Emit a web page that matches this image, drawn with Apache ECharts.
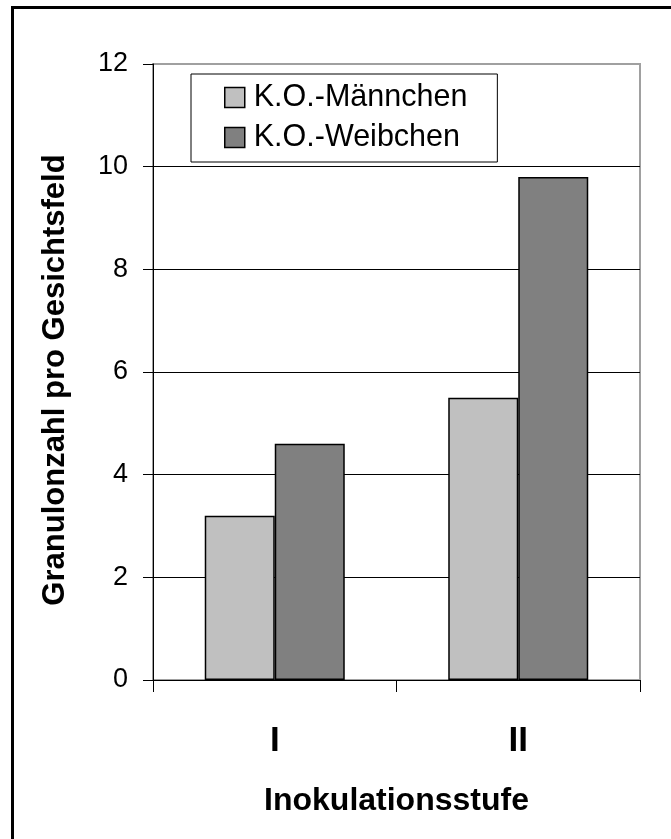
<!DOCTYPE html>
<html>
<head>
<meta charset="utf-8">
<style>
  html, body { margin: 0; padding: 0; background: #fff; }
  #chart { width: 671px; height: 839px; }
</style>
<script src="https://cdn.jsdelivr.net/npm/echarts@6/dist/echarts.min.js"></script>
</head>
<body>
<div id="chart"></div>
<script>
// Inoculation stages on the x axis
const categories = ['I', 'II'];
// Granule counts per visual field
const maleKO = [3.2, 5.5];
const femaleKO = [4.6, 9.8];
// Series names shown in the legend
const seriesNames = ['K.O.-Männchen', 'K.O.-Weibchen'];

const FONT = '"Liberation Sans", Arial, sans-serif';

const chart = echarts.init(document.getElementById('chart'), null, { renderer: 'canvas' });

chart.setOption({
  animation: false,
  backgroundColor: '#ffffff',
  graphic: [{
    type: 'rect',
    shape: { x: 12.5, y: 7.5, width: 700, height: 900 },
    style: { fill: 'none', stroke: '#000', lineWidth: 3 },
    silent: true
  }],
  grid: {
    left: 153, right: 31, top: 64, bottom: 159,
    show: true, borderColor: '#a0a0a0', borderWidth: 2, backgroundColor: 'transparent'
  },
  legend: {
    orient: 'vertical',
    left: 191, top: 74,
    data: seriesNames,
    backgroundColor: '#fff',
    borderColor: '#000', borderWidth: 1,
    padding: [8, 30, 9, 33],
    itemWidth: 20, itemHeight: 20, itemGap: 9,
    icon: 'rect',
    textStyle: { fontFamily: FONT, fontSize: 30.5, color: '#000', padding: [0, 0, 0, 4] },
    itemStyle: { borderColor: '#000', borderWidth: 1.5 }
  },
  xAxis: {
    type: 'category',
    data: categories,
    name: 'Inokulationsstufe',
    nameLocation: 'middle',
    nameGap: 105,
    nameTextStyle: { fontFamily: FONT, fontSize: 32, fontWeight: 'bold', color: '#000' },
    axisLine: { lineStyle: { color: '#000', width: 1 } },
    axisTick: { show: true, length: 12, lineStyle: { color: '#000' } },
    axisLabel: { fontFamily: FONT, fontSize: 35, fontWeight: 'bold', color: '#000', margin: 44 },
    splitLine: { show: false }
  },
  yAxis: {
    type: 'value',
    min: 0, max: 12, interval: 2,
    name: 'Granulonzahl pro Gesichtsfeld',
    nameLocation: 'middle',
    nameGap: 82,
    nameTextStyle: { fontFamily: FONT, fontSize: 31, fontWeight: 'bold', color: '#000', padding: [0, 16, 0, 0] },
    axisLine: { show: true, lineStyle: { color: '#000', width: 1 } },
    axisTick: { show: true, length: 10, lineStyle: { color: '#000' } },
    axisLabel: { fontFamily: FONT, fontSize: 27, color: '#000', margin: 25 },
    splitLine: {
      show: true,
      lineStyle: { color: ['#000', '#000', '#000', '#000', '#000', '#000', '#a0a0a0'], width: 1 }
    }
  },
  series: [
    {
      name: seriesNames[0], type: 'bar', data: maleKO,
      barGap: '0%', barCategoryGap: '42.5%',
      itemStyle: { color: '#c0c0c0', borderColor: '#000', borderWidth: 1.5 }
    },
    {
      name: seriesNames[1], type: 'bar', data: femaleKO,
      barGap: '0%', barCategoryGap: '42.5%',
      itemStyle: { color: '#808080', borderColor: '#000', borderWidth: 1.5 }
    }
  ]
});
</script>
</body>
</html>
